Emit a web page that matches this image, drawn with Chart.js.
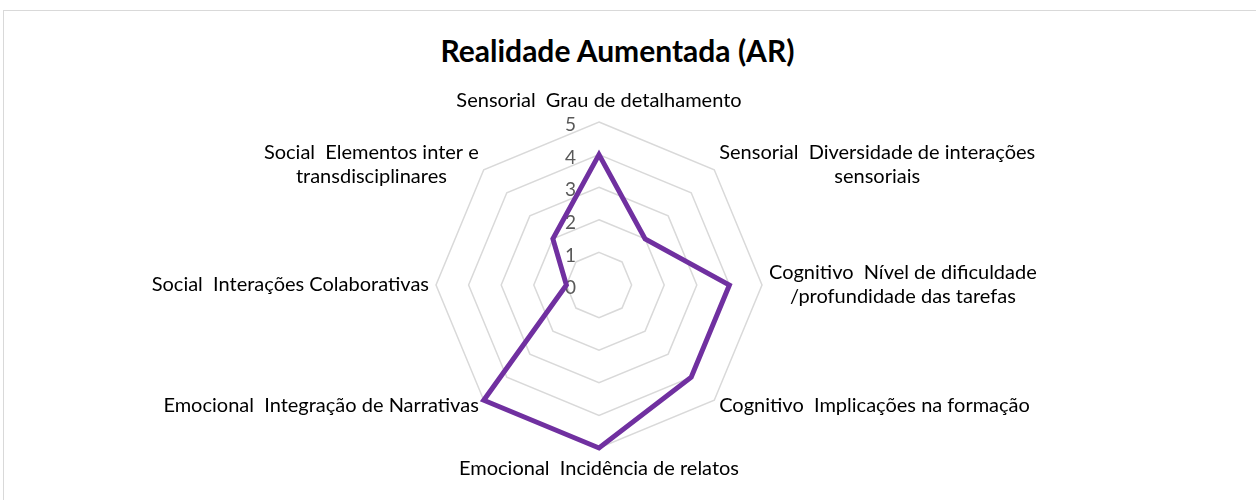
<!DOCTYPE html>
<html>
<head>
<meta charset="utf-8">
<script src="https://cdn.jsdelivr.net/npm/chart.js@4.4.1/dist/chart.umd.min.js"></script>
<style>
  body { margin: 0; background: #fff; }
  .frame { position: absolute; left: 3px; top: 10px; width: 1300px; height: 520px;
           border-top: 1px solid #d9d9d9; border-left: 1px solid #d9d9d9; }
  .chart-title { position: absolute; left: 0; top: 35px; width: 1235px; text-align: center;
                 font: bold 30px Lato, sans-serif; line-height: 1; color: #000; }
  .chart-wrap { position: absolute; left: 4px; top: 10px; width: 1252px; height: 490px; }
</style>
</head>
<body>
<div class="frame"></div>
<div class="chart-title">Realidade Aumentada (AR)</div>
<div class="chart-wrap"><canvas id="ar-chart"></canvas></div>
<script>
const categories = [
  ['Sensorial  Grau de detalhamento'],
  ['Sensorial  Diversidade de interações', 'sensoriais'],
  ['Cognitivo  Nível de dificuldade', '/profundidade das tarefas'],
  ['Cognitivo  Implicações na formação'],
  ['Emocional  Incidência de relatos'],
  ['Emocional  Integração de Narrativas'],
  ['Social  Interações Colaborativas'],
  ['Social  Elementos inter e', 'transdisciplinares']
]
const arValues = [4, 2, 4, 4, 5, 5, 1, 2]
const tickLabels = ['0', '1', '2', '3', '4', '5']

const labelFont = { family: 'Lato, sans-serif', size: 20 }

// excel style labels: block centred on the point, lines centred inside the block
const excelLabels = {
  id: 'excelLabels',
  beforeDatasetsDraw(chart) {
    const scale = chart.scales.r
    const ctx = chart.ctx
    ctx.save()
    ctx.font = '19px Lato, sans-serif'
    ctx.fillStyle = '#595959'
    ctx.textAlign = 'right'
    ctx.textBaseline = 'middle'
    scale.ticks.forEach((t, i) => {
      const y = scale.yCenter - scale.getDistanceFromCenterForValue(t.value)
      ctx.fillText(tickLabels[i], scale.xCenter - 23, y + 3)
    })
    ctx.restore()
  },
  afterDraw(chart) {
    const scale = chart.scales.r
    const ctx = chart.ctx
    const lineH = 24
    ctx.save()
    ctx.font = labelFont.size + 'px ' + labelFont.family
    ctx.fillStyle = '#000'
    ctx.textBaseline = 'middle'
    ctx.textAlign = 'center'
    categories.forEach((lines, i) => {
      const p = scale.getPointPosition(i, scale.drawingArea + 7)
      const widths = lines.map(l => ctx.measureText(l).width)
      const w = Math.max(...widths)
      const h = lines.length * lineH
      const dx = p.x - scale.xCenter
      const dy = p.y - scale.yCenter
      let cx = p.x, top = p.y - h / 2
      if (Math.abs(dx) < 1) {
        top = dy < 0 ? p.y - h - 2 : p.y + 2
      } else if (dx > 0) {
        cx = p.x + w / 2
      } else {
        cx = p.x - w / 2
      }
      lines.forEach((l, k) => ctx.fillText(l, cx, top + lineH * (k + 0.5)))
    })
    ctx.restore()
  }
}

const data = {
  labels: categories,
  datasets: [{
    label: 'Realidade Aumentada (AR)',
    data: arValues,
    borderColor: '#7030a0',
    backgroundColor: 'rgba(0,0,0,0)',
    borderWidth: 5,
    pointRadius: 0,
    fill: false,
    tension: 0
  }]
}

const config = {
  type: 'radar',
  data: data,
  options: {
    responsive: true,
    maintainAspectRatio: false,
    animation: false,
    layout: { padding: { top: 82, bottom: 21, left: 0, right: 62 } },
    plugins: {
      legend: { display: false },
      title: { display: false },
      tooltip: { enabled: false }
    },
    scales: {
      r: {
        min: 0,
        max: 5,
        ticks: { stepSize: 1, display: false },
        grid: { color: '#d9d9d9', lineWidth: 1.5 },
        angleLines: { display: false },
        pointLabels: { font: labelFont, padding: 6, color: 'rgba(0,0,0,0)' }
      }
    }
  },
  plugins: [excelLabels]
}

const myChart = new Chart(document.getElementById('ar-chart'), config)
</script>
</body>
</html>
